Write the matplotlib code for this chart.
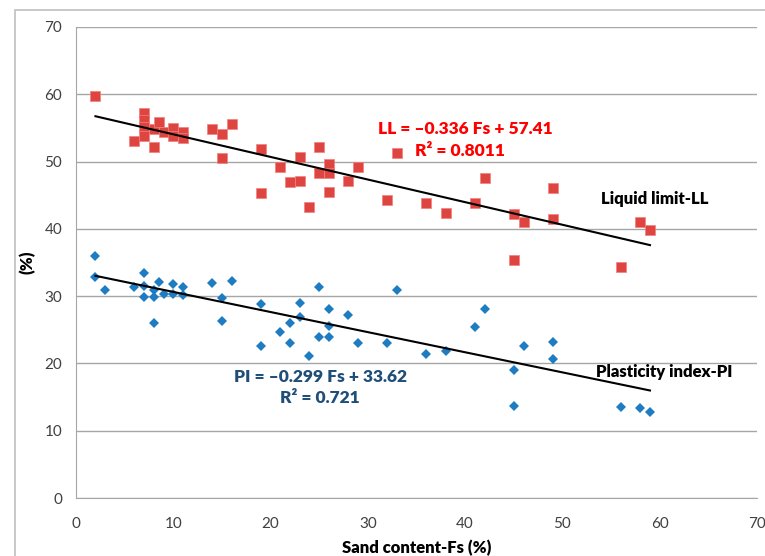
import numpy as np
import matplotlib
matplotlib.use('Agg')
from matplotlib import pyplot as plt
from matplotlib.patches import Rectangle

# sand content (x) and liquid limit (LL)
ll_fs = [2, 6, 7, 7, 7, 7, 8, 8, 8.5, 9, 10, 10, 11, 11, 14, 15, 15, 16,
         19, 19, 21, 22, 23, 23, 24, 25, 25, 26, 26, 26, 28, 29, 32, 33,
         36, 38, 41, 42, 45, 45, 46, 49, 49, 56, 58, 59]
ll_val = [59.8, 53.0, 57.2, 56.2, 55.2, 53.8, 54.9, 52.1, 55.9, 54.4, 55.0, 53.8,
          54.4, 53.5, 54.8, 54.1, 50.5, 55.6, 51.9, 45.4, 49.2, 46.9, 50.7, 47.1,
          43.3, 52.2, 48.3, 49.7, 48.3, 45.5, 47.1, 49.2, 44.3, 51.3, 43.8, 42.4,
          43.8, 47.6, 42.2, 35.4, 41.0, 46.1, 41.4, 34.4, 41.0, 39.9]

# sand content (x) and plasticity index (PI)
pi_fs = [2, 2, 3, 6, 7, 7, 7, 8, 8, 8, 8.5, 9, 10, 10, 11, 11, 14, 15, 15, 16,
         19, 19, 21, 22, 22, 23, 23, 24, 25, 25, 26, 26, 26, 28, 29, 32, 33,
         36, 38, 41, 42, 45, 45, 46, 49, 49, 56, 58, 59]
pi_val = [35.9, 32.9, 30.9, 31.3, 33.4, 31.5, 29.9, 30.9, 29.9, 26.0, 32.1, 30.3,
          31.8, 30.3, 31.3, 30.2, 32.0, 29.7, 26.3, 32.2, 28.8, 22.6, 24.7, 26.0,
          23.0, 29.0, 26.9, 21.1, 31.4, 23.9, 28.1, 25.5, 24.0, 27.2, 23.0, 23.1,
          30.9, 21.4, 21.8, 25.4, 28.1, 19.0, 13.7, 22.6, 23.2, 20.7, 13.5, 13.4,
          12.8]

# trend line coefficients (from the chart equations)
ll_slope, ll_icpt = -0.336, 57.41
pi_slope, pi_icpt = -0.299, 33.62

plt.rcParams['font.family'] = ['Lato', 'DejaVu Sans']

fig = plt.figure(figsize=(7.65, 5.56), dpi=100)
ax = fig.add_axes([76/765, 58/556, 681/765, 471/556])

# outer chart frame
frame = Rectangle((15/765, -0.05), 1.0, 1 - 10/556 + 0.05,
                  transform=fig.transFigure, fill=False,
                  edgecolor='#BFBFBF', linewidth=1.2, zorder=10)
fig.add_artist(frame)

ax.plot(ll_fs, ll_val, 's', color='#DE4540', markersize=7.5, markeredgecolor='#F08080',
        markeredgewidth=0.5, zorder=3)
ax.plot(pi_fs, pi_val, 'D', color='#1E7CC2', markersize=5.3, markeredgewidth=0, zorder=3)

xs = np.array([min(ll_fs), max(ll_fs)])
ax.plot(xs, ll_slope*xs + ll_icpt, color='black', linewidth=1.5, zorder=4)
xs = np.array([min(pi_fs), max(pi_fs)])
ax.plot(xs, pi_slope*xs + pi_icpt, color='black', linewidth=1.5, zorder=4)

ax.set_xlim(0, 70)
ax.set_ylim(0, 70)
ax.set_xticks(range(0, 71, 10))
ax.set_yticks(range(0, 71, 10))
ax.grid(axis='y', color='#A6A6A6', linewidth=1.0)
ax.set_axisbelow(True)
for s in ['top', 'right']:
    ax.spines[s].set_visible(False)
for s in ['left', 'bottom']:
    ax.spines[s].set_color('#A6A6A6')
ax.tick_params(length=0, labelsize=11, labelcolor='#404040')
ax.tick_params(axis='x', pad=14)
ax.tick_params(axis='y', pad=10)

ax.set_xlabel('Sand content\u2010Fs (%)', fontsize=12, fontweight='heavy', labelpad=6)
ax.set_ylabel('(%)', fontsize=12, fontweight='heavy', labelpad=6)

ax.text(40.0, 54.9, 'LL = \u20130.336 Fs + 57.41', color='red', fontsize=12.5,
        fontweight='heavy', ha='center', va='center')
ax.text(39.5, 51.5, 'R\u00b2 = 0.8011', color='red', fontsize=12.5,
        fontweight='heavy', ha='center', va='center')
ax.text(25.1, 18.0, 'PI = \u20130.299 Fs + 33.62', color='#1F4E79', fontsize=12.5,
        fontweight='heavy', ha='center', va='center')
ax.text(25.1, 14.9, 'R\u00b2 = 0.721', color='#1F4E79', fontsize=12.5,
        fontweight='heavy', ha='center', va='center')
ax.text(59.5, 44.5, 'Liquid limit\u2010LL', color='black', fontsize=12,
        fontweight='heavy', ha='center', va='center')
ax.text(60.5, 18.7, 'Plasticity index\u2010PI', color='black', fontsize=12,
        fontweight='heavy', ha='center', va='center')

fig.savefig('out.png', dpi=100)
